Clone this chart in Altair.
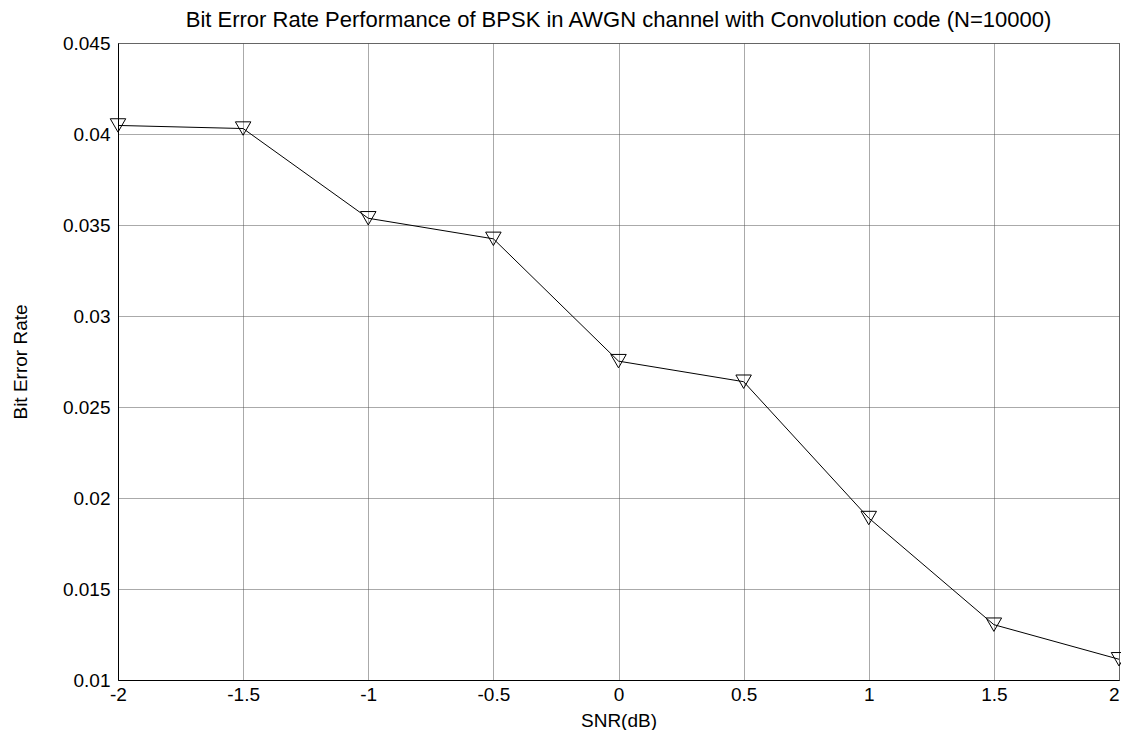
import altair as alt
import pandas as pd

# Data
snr_db = [-2, -1.5, -1, -0.5, 0, 0.5, 1, 1.5, 2]
bit_error_rate = [0.04047, 0.0403, 0.03537, 0.03424, 0.02752, 0.02639, 0.0189, 0.01304, 0.01114]

# Tick labels
x_ticks = [-2, -1.5, -1, -0.5, 0, 0.5, 1, 1.5, 2]
y_ticks = [0.01, 0.015, 0.02, 0.025, 0.03, 0.035, 0.04, 0.045]

df = pd.DataFrame({"snr": snr_db, "ber": bit_error_rate})

FONT = "Liberation Sans"

x_enc = alt.X(
    "snr:Q",
    scale=alt.Scale(domain=[-2, 2], nice=False, zero=False),
    axis=alt.Axis(
        values=x_ticks,
        labelExpr="toString(datum.value)",
        title="SNR(dB)",
        labelAlign={"condition": {"test": "datum.value == 2", "value": "right"}, "value": "center"},
    ),
)
y_enc = alt.Y(
    "ber:Q",
    scale=alt.Scale(domain=[0.01, 0.045], nice=False, zero=False),
    axis=alt.Axis(
        values=y_ticks,
        labelExpr="toString(datum.value)",
        title="Bit Error Rate",
    ),
)

line = alt.Chart(df).mark_line(color="black", strokeWidth=1).encode(x=x_enc, y=y_enc)
points = alt.Chart(df).mark_point(
    shape="triangle-down", size=240, filled=False, color="black", strokeWidth=1, opacity=1
).encode(x="snr:Q", y="ber:Q")

chart = (
    alt.layer(line, points)
    .properties(
        width=1001,
        height=637,
        title=alt.TitleParams(
            "Bit Error Rate Performance of BPSK in AWGN channel with Convolution code (N=10000)",
            font=FONT,
            fontSize=22,
            fontWeight="normal",
            color="black",
            anchor="middle",
            offset=2,
        ),
        autosize=alt.AutoSizeParams(type="none"),
        padding={"left": 110, "top": 35, "right": 2, "bottom": 50},
    )
    .configure_view(stroke="#777777", strokeWidth=1)
    .configure_axis(
        labelFont=FONT,
        titleFont=FONT,
        labelFontSize=19,
        titleFontSize=19,
        titleFontWeight="normal",
        labelColor="black",
        titleColor="black",
        domainColor="black",
        domainWidth=1,
        ticks=False,
        grid=True,
        gridColor="#555555",
        gridDash=[1, 1],
        gridWidth=1,
        gridOpacity=1,
    )
    .configure_axisX(labelPadding=5, titlePadding=7)
    .configure_axisY(labelPadding=8, titlePadding=32)
)

chart.save("out.html", embed_options={"renderer": "svg", "actions": False})
